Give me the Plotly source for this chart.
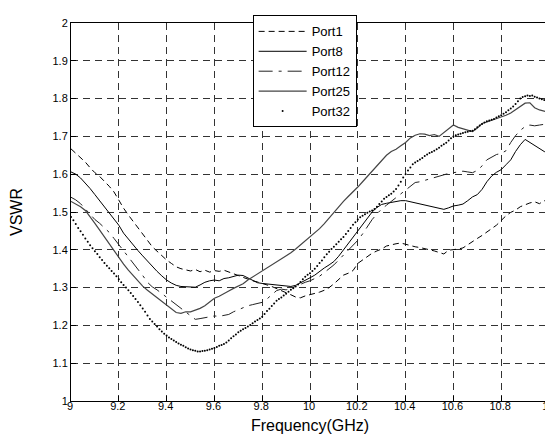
import numpy as np
import plotly.graph_objects as go

# Frequency grids (GHz)
freq = np.round(np.linspace(9.0, 11.0, 101), 2)
freq_dense = np.round(np.linspace(9.0, 11.0, 201), 2)

port1 = [
    1.667, 1.656, 1.645, 1.632, 1.617, 1.604, 1.594, 1.582, 1.568, 1.553,
    1.530, 1.510, 1.492, 1.476, 1.459, 1.444, 1.425, 1.408, 1.396, 1.383,
    1.373, 1.364, 1.355, 1.350, 1.346, 1.344, 1.348, 1.342, 1.346, 1.341,
    1.345, 1.343, 1.346, 1.342, 1.336, 1.332, 1.327, 1.322, 1.318, 1.315,
    1.312, 1.307, 1.303, 1.298, 1.293, 1.288, 1.281, 1.275, 1.273, 1.278,
    1.281, 1.283, 1.288, 1.293, 1.300, 1.310, 1.322, 1.333, 1.338, 1.345,
    1.364, 1.373, 1.381, 1.391, 1.397, 1.402, 1.410, 1.414, 1.416, 1.418,
    1.414, 1.410, 1.408, 1.406, 1.404, 1.400, 1.397, 1.393, 1.389, 1.399,
    1.400, 1.402, 1.405, 1.414, 1.423, 1.430, 1.438, 1.446, 1.456, 1.465,
    1.478, 1.490, 1.499, 1.505, 1.514, 1.520, 1.524, 1.527, 1.522, 1.530,
    1.526,
]

port8 = [
    1.606, 1.600, 1.590, 1.577, 1.562, 1.546, 1.530, 1.516, 1.500, 1.482,
    1.465, 1.444, 1.428, 1.412, 1.398, 1.384, 1.370, 1.356, 1.343, 1.331,
    1.320, 1.312, 1.306, 1.303, 1.302, 1.301, 1.301, 1.307, 1.314, 1.318,
    1.320, 1.318, 1.324, 1.326, 1.330, 1.333, 1.332, 1.325, 1.318, 1.313,
    1.311, 1.310, 1.308, 1.306, 1.305, 1.304, 1.303, 1.306, 1.312, 1.318,
    1.326, 1.333, 1.343, 1.352, 1.360, 1.369, 1.383, 1.400, 1.417, 1.433,
    1.450, 1.467, 1.483, 1.500, 1.512, 1.520, 1.523, 1.526, 1.528, 1.530,
    1.530, 1.527, 1.524, 1.522, 1.517, 1.514, 1.511, 1.509, 1.507, 1.511,
    1.516, 1.518, 1.521, 1.530, 1.540, 1.546, 1.560, 1.580, 1.595, 1.605,
    1.612, 1.625, 1.638, 1.660, 1.678, 1.692, 1.684, 1.676, 1.668, 1.660,
    1.655,
]

port12 = [
    1.539, 1.532, 1.522, 1.508, 1.494, 1.480, 1.470, 1.458, 1.446, 1.430,
    1.414, 1.395, 1.380, 1.365, 1.350, 1.332, 1.314, 1.302, 1.294, 1.284,
    1.276, 1.266, 1.256, 1.246, 1.236, 1.225, 1.216, 1.218, 1.220, 1.222,
    1.225, 1.224, 1.226, 1.229, 1.236, 1.242, 1.248, 1.252, 1.255, 1.258,
    1.261, 1.270, 1.282, 1.292, 1.296, 1.294, 1.298, 1.304, 1.310, 1.314,
    1.318, 1.323, 1.330, 1.340, 1.350, 1.360, 1.373, 1.386, 1.400, 1.414,
    1.425, 1.442, 1.462, 1.480, 1.495, 1.508, 1.518, 1.528, 1.538, 1.548,
    1.558, 1.570, 1.578, 1.580, 1.584, 1.586, 1.590, 1.594, 1.598, 1.602,
    1.604, 1.607, 1.608, 1.606, 1.604, 1.610, 1.622, 1.638, 1.646, 1.652,
    1.655, 1.662, 1.684, 1.702, 1.716, 1.726, 1.730, 1.728, 1.730, 1.733,
    1.734,
]

port25 = [
    1.528, 1.522, 1.514, 1.504, 1.488, 1.470, 1.452, 1.434, 1.416, 1.396,
    1.377, 1.362, 1.346, 1.331, 1.318, 1.304, 1.293, 1.283, 1.272, 1.262,
    1.254, 1.243, 1.234, 1.232, 1.236, 1.236, 1.240, 1.245, 1.252, 1.262,
    1.272, 1.277, 1.285, 1.291, 1.298, 1.303, 1.310, 1.320, 1.328, 1.335,
    1.343, 1.352, 1.360, 1.368, 1.376, 1.384, 1.392, 1.402, 1.413, 1.424,
    1.433, 1.444, 1.456, 1.469, 1.484, 1.500, 1.516, 1.528, 1.541, 1.553,
    1.566, 1.580, 1.594, 1.608, 1.622, 1.637, 1.650, 1.660, 1.666, 1.675,
    1.684, 1.696, 1.703, 1.707, 1.706, 1.702, 1.705, 1.700, 1.710, 1.720,
    1.730, 1.724, 1.721, 1.716, 1.713, 1.722, 1.734, 1.738, 1.742, 1.746,
    1.751, 1.756, 1.762, 1.770, 1.780, 1.788, 1.789, 1.776, 1.770, 1.767,
    1.764,
]

port32 = [
    1.487, 1.478, 1.468, 1.458, 1.449, 1.440, 1.430, 1.421, 1.412, 1.404,
    1.396, 1.389, 1.380, 1.373, 1.365, 1.358, 1.351, 1.344, 1.337, 1.330,
    1.322, 1.314, 1.307, 1.300, 1.293, 1.286, 1.278, 1.270, 1.262, 1.253,
    1.245, 1.236, 1.226, 1.217, 1.210, 1.204, 1.197, 1.190, 1.184, 1.178,
    1.173, 1.168, 1.164, 1.160, 1.156, 1.152, 1.149, 1.146, 1.142, 1.139,
    1.136, 1.134, 1.133, 1.131, 1.131, 1.132, 1.133, 1.134, 1.136, 1.138,
    1.140, 1.143, 1.146, 1.148, 1.151, 1.155, 1.160, 1.166, 1.171, 1.176,
    1.182, 1.186, 1.190, 1.193, 1.197, 1.201, 1.206, 1.210, 1.214, 1.218,
    1.223, 1.230, 1.238, 1.244, 1.251, 1.258, 1.265, 1.270, 1.274, 1.279,
    1.284, 1.289, 1.294, 1.298, 1.303, 1.308, 1.315, 1.322, 1.329, 1.334,
    1.338, 1.344, 1.350, 1.357, 1.365, 1.372, 1.380, 1.388, 1.395, 1.402,
    1.408, 1.415, 1.421, 1.428, 1.434, 1.442, 1.450, 1.458, 1.466, 1.473,
    1.480, 1.486, 1.490, 1.494, 1.498, 1.501, 1.504, 1.508, 1.514, 1.521,
    1.528, 1.535, 1.540, 1.544, 1.548, 1.554, 1.561, 1.570, 1.580, 1.591,
    1.600, 1.610, 1.618, 1.626, 1.631, 1.635, 1.639, 1.643, 1.648, 1.652,
    1.656, 1.659, 1.662, 1.666, 1.670, 1.675, 1.679, 1.683, 1.689, 1.695,
    1.700, 1.703, 1.705, 1.707, 1.709, 1.711, 1.712, 1.714, 1.715, 1.719,
    1.724, 1.729, 1.733, 1.737, 1.740, 1.742, 1.744, 1.746, 1.750, 1.753,
    1.756, 1.760, 1.764, 1.769, 1.774, 1.779, 1.786, 1.793, 1.800, 1.804,
    1.806, 1.808, 1.807, 1.808, 1.805, 1.803, 1.800, 1.798, 1.796, 1.795,
    1.794,
]

x_ticks = [9.0, 9.2, 9.4, 9.6, 9.8, 10.0, 10.2, 10.4, 10.6, 10.8, 11.0]
x_ticklabels = ["9", "9.2", "9.4", "9.6", "9.8", "10", "10.2", "10.4", "10.6", "10.8", "11"]
y_ticks = [1.0, 1.1, 1.2, 1.3, 1.4, 1.5, 1.6, 1.7, 1.8, 1.9, 2.0]
y_ticklabels = ["1", "1.1", "1.2", "1.3", "1.4", "1.5", "1.6", "1.7", "1.8", "1.9", "2"]

FONT = "Arial, 'Liberation Sans', Helvetica, sans-serif"

fig = go.Figure()
fig.add_trace(go.Scatter(x=freq, y=port1, mode="lines", name="Port1",
                         line=dict(color="black", width=1, dash="6px,4px")))
fig.add_trace(go.Scatter(x=freq, y=port8, mode="lines", name="Port8",
                         line=dict(color="black", width=1)))
fig.add_trace(go.Scatter(x=freq, y=port12, mode="lines", name="Port12",
                         line=dict(color="#222222", width=1, dash="14px,6px,3px,6px")))
fig.add_trace(go.Scatter(x=freq, y=port25, mode="lines", name="Port25",
                         line=dict(color="#444444", width=1.2)))
fig.add_trace(go.Scatter(x=freq_dense, y=port32, mode="markers", name="Port32",
                         marker=dict(color="black", size=2, symbol="circle")))

axis_common = dict(
    showline=True, linecolor="black", linewidth=1, mirror=True,
    ticks="inside", ticklen=5, tickcolor="black",
    showgrid=True, gridcolor="#333333", gridwidth=1, griddash="7px,5px",
    zeroline=False,
    tickfont=dict(family=FONT, size=11, color="black"),
)

fig.update_xaxes(range=[9, 11], tickvals=x_ticks, ticktext=x_ticklabels,
                 ticklabelstandoff=-5, ticklabelshift=-1,
                 title=dict(text="Frequency(GHz)", font=dict(family=FONT, size=16, color="black"),
                            standoff=8),
                 **axis_common)
fig.update_yaxes(range=[1, 2], tickvals=y_ticks, ticktext=y_ticklabels,
                 title=dict(text="VSWR", font=dict(family=FONT, size=16, color="black"),
                            standoff=25),
                 **axis_common)

fig.update_layout(
    width=553, height=439,
    margin=dict(l=63, r=7, t=10, b=46),
    paper_bgcolor="white", plot_bgcolor="white",
    font=dict(family=FONT, color="black"),
    legend=dict(x=0.38, y=1.02, xanchor="left", yanchor="top",
                bgcolor="white", bordercolor="black", borderwidth=1,
                font=dict(family=FONT, size=13, color="black"),
                tracegroupgap=0, itemwidth=48),
    showlegend=True,
)

fig.write_html("out.html")
